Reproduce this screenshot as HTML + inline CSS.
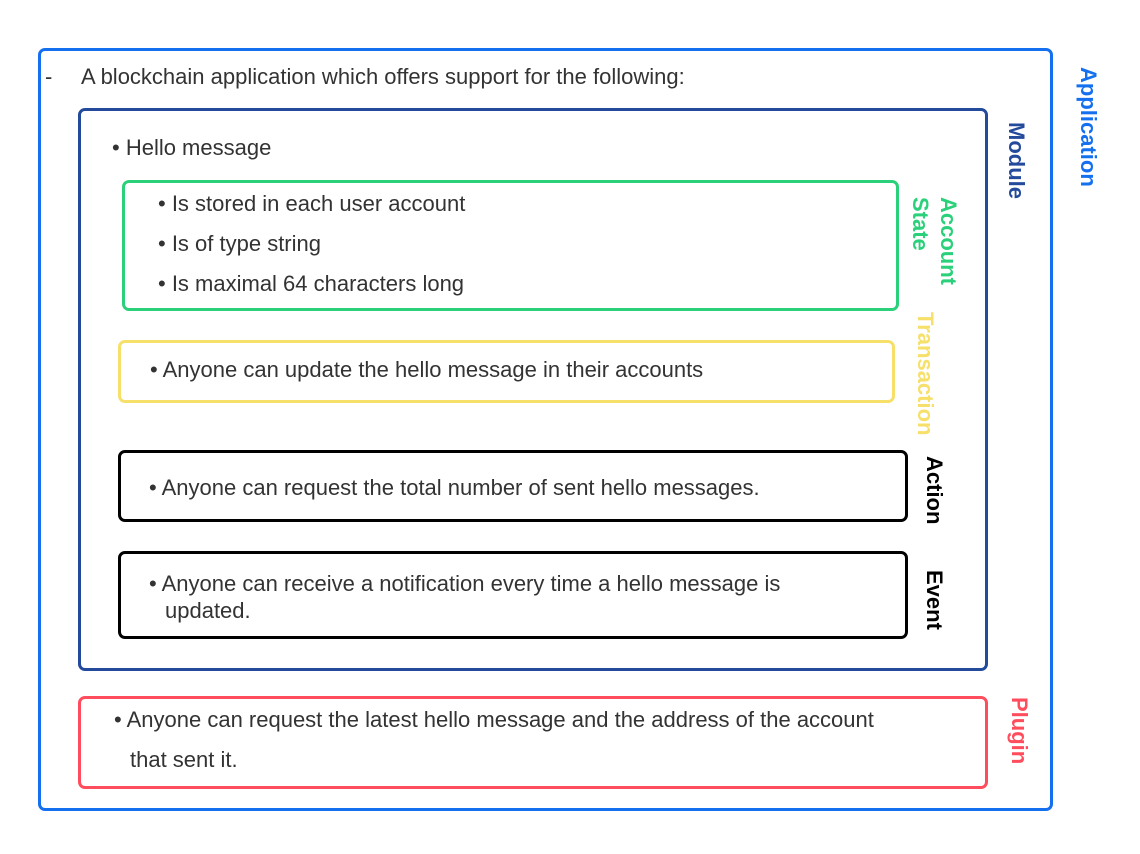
<!DOCTYPE html>
<html><head><style>
body{margin:0;width:1140px;height:854px;background:#fff;position:relative;font-family:"Liberation Sans",sans-serif;color:#333;overflow:hidden}
.b{position:absolute;box-sizing:border-box;border-width:3px;border-style:solid;border-radius:7px}
.t{position:absolute;font-size:22px;white-space:nowrap;line-height:24px}
.v{position:absolute;writing-mode:vertical-rl;font-weight:bold;font-size:22px;line-height:24px;white-space:nowrap}
</style></head><body>
<div class="b" style="left:38px;top:48px;width:1015px;height:763px;border-color:#1570ef"></div>
<div class="b" style="left:78px;top:108px;width:910px;height:563px;border-color:#244a9c"></div>
<div class="b" style="left:122px;top:180px;width:777px;height:131px;border-color:#2bd07a"></div>
<div class="b" style="left:118px;top:340px;width:777px;height:63px;border-color:#f6e06a"></div>
<div class="b" style="left:118px;top:450px;width:790px;height:72px;border-color:#000"></div>
<div class="b" style="left:118px;top:551px;width:790px;height:88px;border-color:#000"></div>
<div class="b" style="left:78px;top:696px;width:910px;height:93px;border-color:#ff4d5e"></div>

<div class="t" style="left:45px;top:65px">-</div>
<div class="t" style="left:81px;top:65px">A blockchain application which offers support for the following:</div>
<div class="t" style="left:112px;top:136px">• Hello message</div>
<div class="t" style="left:158px;top:192px">• Is stored in each user account</div>
<div class="t" style="left:158px;top:232px">• Is of type string</div>
<div class="t" style="left:158px;top:272px">• Is maximal 64 characters long</div>
<div class="t" style="left:150px;top:358px">• Anyone can update the hello message in their accounts</div>
<div class="t" style="left:149px;top:476px">• Anyone can request the total number of sent hello messages.</div>
<div class="t" style="left:149px;top:572px">• Anyone can receive a notification every time a hello message is</div>
<div class="t" style="left:165px;top:599px">updated.</div>
<div class="t" style="left:114px;top:708px">• Anyone can request the latest hello message and the address of the account</div>
<div class="t" style="left:130px;top:748px">that sent it.</div>

<div class="v" style="left:1076px;top:67px;color:#1570ef">Application</div>
<div class="v" style="left:1004px;top:122px;color:#244a9c">Module</div>
<div class="v" style="left:906px;top:197px;color:#2bd07a;text-align:left;line-height:28px">Account<br>State</div>
<div class="v" style="left:913px;top:312px;color:#f6e06a">Transaction</div>
<div class="v" style="left:922px;top:456px;color:#000">Action</div>
<div class="v" style="left:922px;top:570px;color:#000">Event</div>
<div class="v" style="left:1007px;top:697px;color:#ff4d5e">Plugin</div>
</body></html>
